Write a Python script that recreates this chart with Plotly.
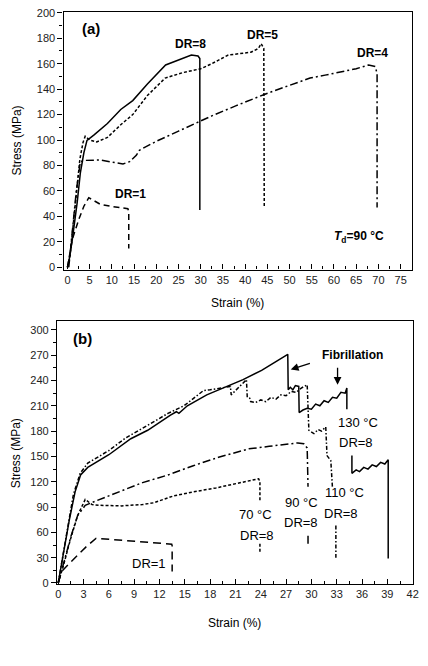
import plotly.graph_objects as go

# ---------------- Panel (a): Td = 90 C, different draw ratios ----------------
a_dr8_x = [0, 0.5, 1.1, 2.2, 2.9, 3.7, 4.4, 6, 9, 12, 14.7, 18, 22.1, 24.3, 26, 27.9, 29.4, 29.8, 29.8]
a_dr8_y = [0, 8, 22, 51, 74, 90, 99.7, 104, 113, 124, 131, 144, 159, 162, 164, 166.8, 166, 164, 45]

a_dr5_x = [0, 0.6, 1.2, 2.0, 2.8, 3.5, 4.0, 5, 6.6, 9, 12, 14.7, 18, 22, 26, 30, 32.5, 36.2, 40, 41.3, 43, 43.6, 44.2, 44.3]
a_dr5_y = [0, 10, 30, 60, 85, 98, 103, 100, 98.5, 102, 112, 120, 135, 148.7, 153, 156, 160, 166.8, 168, 169, 172, 175.8, 172, 48]

a_dr4_x = [0.3, 1, 2, 2.9, 4, 7.4, 10, 12.5, 14, 15.5, 16.2, 20, 25, 32.5, 38, 44.3, 50, 54.6, 58, 62, 65, 67.8, 69.3, 69.7, 69.7]
a_dr4_y = [0, 25, 60, 83, 84, 84.3, 83, 81.2, 83, 88, 92, 99, 107, 119, 127, 135.8, 143, 148.7, 151, 153.8, 156, 159, 157.7, 152, 47]

a_dr1_x = [0, 1.1, 2.6, 3.7, 4.8, 7.4, 9.6, 12, 13.6, 13.8, 13.8]
a_dr1_y = [0, 22, 38, 48, 54.7, 49.5, 48, 47, 46, 44, 14.7]

# ---------------- Panel (b): DR = 8 at different temperatures ----------------
b130_x = [0, 0.6, 1.3, 2.0, 2.65, 3.5, 6, 8.6, 10.6, 13.3, 14, 14.3, 15.3, 17.6, 20, 21.9, 24.1, 27.2, 27.25,
          27.5, 27.8, 28.1, 28.5, 28.55, 29, 29.5, 30, 30.5, 31, 31.5, 32, 32.5, 33, 33.5, 34, 34.2, 34.2,
          None, 34.8, 34.8, 35.3, 35.7, 36.2, 36.7, 37.2, 37.7, 38.2, 38.7, 39.1, 39.1]
b130_y = [0, 35, 74, 108, 128, 137, 152, 171, 181, 199, 203, 201, 210, 223, 233, 241, 252, 271, 229,
          232, 229, 234, 233, 202, 205, 207, 206, 212, 210, 216, 214, 220, 219, 226, 225, 231, 206,
          None, 151, 130, 134, 132, 137, 135, 140, 138, 143, 141, 146, 29]

b110_x = [0, 0.8, 1.8, 2.6, 3.5, 6, 8, 10.6, 13, 14.9, 17.2, 18, 19.5, 20.4, 20.5, 22.3, 22.4, 22.7, 22.8,
          23.4, 24, 24.6, 25.2, 25.8, 26.4, 27, 27.6, 28.2, 28.8, 29.5, 29.7, 30.3, 30.8, 31.2, 31.7,
          31.85, 32.3, 32.5, None, 32.9, 32.9]
b110_y = [0, 45, 105, 130, 142, 157, 172, 187, 201, 210, 228, 229, 232, 233, 223, 241, 220, 219, 215,
          214, 217, 215, 220, 218, 223, 222, 227, 226, 231, 235, 181, 177, 182, 180, 185,
          151, 145, 112, None, 68, 30]

b90_x = [0, 0.7, 1.5, 2.3, 3.2, 4.4, 7.5, 10, 13, 16, 19, 22.6, 25, 28.4, 29.1, 29.5, 29.6, None, 29.6, 29.6]
b90_y = [0, 25, 55, 80, 92, 97, 109, 119, 128, 139, 149, 159, 162, 166, 165, 160, 114, None, 56, 45]

b70_x = [0, 0.6, 1.4, 2.3, 3.2, 4, 5, 7.5, 10, 11.3, 13.6, 16, 18.7, 21, 23.75, 23.9, 23.9, None, 23.9, 23.9]
b70_y = [0, 20, 50, 80, 99, 93, 92, 91.4, 93, 95, 103, 108, 112.7, 118, 123.5, 120, 97, None, 46.6, 37]

b1_x = [0, 0.4, 1.2, 2.07, 3.3, 4.5, 7.5, 11.3, 13.45, 13.5, 13.5]
b1_y = [0, 13.6, 22, 31, 42.8, 53, 50.6, 47.4, 46, 44, 13.6]

a_ticks = list(range(0, 80, 5))
b_xticks = list(range(0, 43, 3))

W, H = 428, 666
FONT = "Liberation Sans, Arial, sans-serif"

fig = go.Figure()

def add(x, y, dash, xa, ya):
    fig.add_trace(go.Scatter(x=x, y=y, mode="lines", xaxis=xa, yaxis=ya,
                             line=dict(color="black", width=1.5, dash=dash),
                             showlegend=False, hoverinfo="skip", connectgaps=False))

add(a_dr8_x, a_dr8_y, "solid", "x", "y")
add(a_dr5_x, a_dr5_y, "3px,2px", "x", "y")
add(a_dr4_x, a_dr4_y, "8px,3px,2px,3px", "x", "y")
add(a_dr1_x, a_dr1_y, "6px,4px", "x", "y")

add(b130_x, b130_y, "solid", "x2", "y2")
add(b110_x, b110_y, "4px,2px,1.5px,2px", "x2", "y2")
add(b90_x, b90_y, "8px,3px,2px,3px", "x2", "y2")
add(b70_x, b70_y, "3px,2px", "x2", "y2")
add(b1_x, b1_y, "8px,5px", "x2", "y2")

def px2x(p):
    return p / W

def px2y(p):
    return 1 - p / H

axis_common = dict(showline=True, linecolor="black", linewidth=1.2, mirror=True,
                   showgrid=False, zeroline=False, tickcolor="black",
                   tickfont=dict(family=FONT, size=11, color="#222"))

fig.update_layout(
    width=W, height=H, margin=dict(l=0, r=0, t=0, b=0),
    paper_bgcolor="white", plot_bgcolor="white",
    xaxis=dict(domain=[px2x(62.7), px2x(418)], range=[-0.88, 77.6], anchor="y",
               tickvals=a_ticks, ticks="inside", ticklen=5,
               minor=dict(ticks="inside", ticklen=3, dtick=2.5, tick0=0, tickcolor="black"),
               **axis_common),
    yaxis=dict(domain=[px2y(268), px2y(6.5)], range=[-1.8, 200.3], anchor="x",
               dtick=20, tick0=0, ticks="outside", ticklen=5,
               minor=dict(ticks="outside", ticklen=3, dtick=10, tick0=0, tickcolor="black"),
               **axis_common),
    xaxis2=dict(domain=[px2x(56), px2x(418.5)], range=[-0.15, 42.0], anchor="y2",
                tickvals=b_xticks, ticks="inside", ticklen=5,
                minor=dict(ticks="inside", ticklen=3, dtick=1.5, tick0=0, tickcolor="black"),
                **axis_common),
    yaxis2=dict(domain=[px2y(587.7), px2y(320.5)], range=[-1.2, 310.3], anchor="x2",
                dtick=30, tick0=0, ticks="outside", ticklen=5,
                minor=dict(ticks="outside", ticklen=3, dtick=15, tick0=0, tickcolor="black"),
                **axis_common),
)

ann = []

def txt(x, y, text, xref, yref, size=12, bold=False):
    t = f"<b>{text}</b>" if bold else text
    ann.append(dict(x=x, y=y, xref=xref, yref=yref, text=t, showarrow=False,
                    font=dict(family=FONT, size=size, color="black"),
                    xanchor="center", yanchor="middle"))

# Panel (a) labels
txt(5.2, 188, "(a)", "x", "y", size=15, bold=True)
txt(27.6, 175.8, "DR=8", "x", "y", size=12, bold=True)
txt(43.9, 182.5, "DR=5", "x", "y", size=12, bold=True)
txt(68.6, 168, "DR=4", "x", "y", size=12, bold=True)
txt(14.3, 57.2, "DR=1", "x", "y", size=12, bold=True)
txt(65.6, 24, "<i>T</i><sub>d</sub>=90 °C", "x", "y", size=12, bold=True)

# Panel (b) labels
txt(2.9, 289.5, "(b)", "x2", "y2", size=15, bold=True)
txt(34.9, 270, "Fibrillation", "x2", "y2", size=12, bold=True)
txt(35.5, 190.4, "130 °C", "x2", "y2", size=13)
txt(35.3, 166, "DR=8", "x2", "y2", size=13)
txt(33.9, 106.9, "110 °C", "x2", "y2", size=13)
txt(33.5, 82.4, "DR=8", "x2", "y2", size=13)
txt(28.8, 95.2, "90 °C", "x2", "y2", size=13)
txt(28.8, 72, "DR=8", "x2", "y2", size=13)
txt(23.4, 81.6, "70 °C", "x2", "y2", size=13)
txt(23.6, 56.4, "DR=8", "x2", "y2", size=13)
txt(10.8, 22.6, "DR=1", "x2", "y2", size=13)

# Fibrillation arrows
for hx, hy, tx, ty in [(27.55, 253, 30.0, 261), (33.1, 235, 33.1, 257)]:
    ann.append(dict(x=hx, y=hy, ax=tx, ay=ty, xref="x2", yref="y2", axref="x2", ayref="y2",
                    text="", showarrow=True, arrowhead=2, arrowsize=1.2, arrowwidth=1.3,
                    arrowcolor="black"))

# Axis titles
def title(xp, yp, text, angle=0):
    ann.append(dict(x=px2x(xp), y=px2y(yp), xref="paper", yref="paper", text=text,
                    showarrow=False, textangle=angle,
                    font=dict(family=FONT, size=12, color="black"),
                    xanchor="center", yanchor="middle"))

title(15, 137, "Stress (MPa)", -90)
title(240, 302, "Strain (%)")
title(15, 455, "Stress (MPa)", -90)
title(237, 627, "Strain (%)")

fig.update_layout(annotations=ann)

fig.write_html("out.html")
